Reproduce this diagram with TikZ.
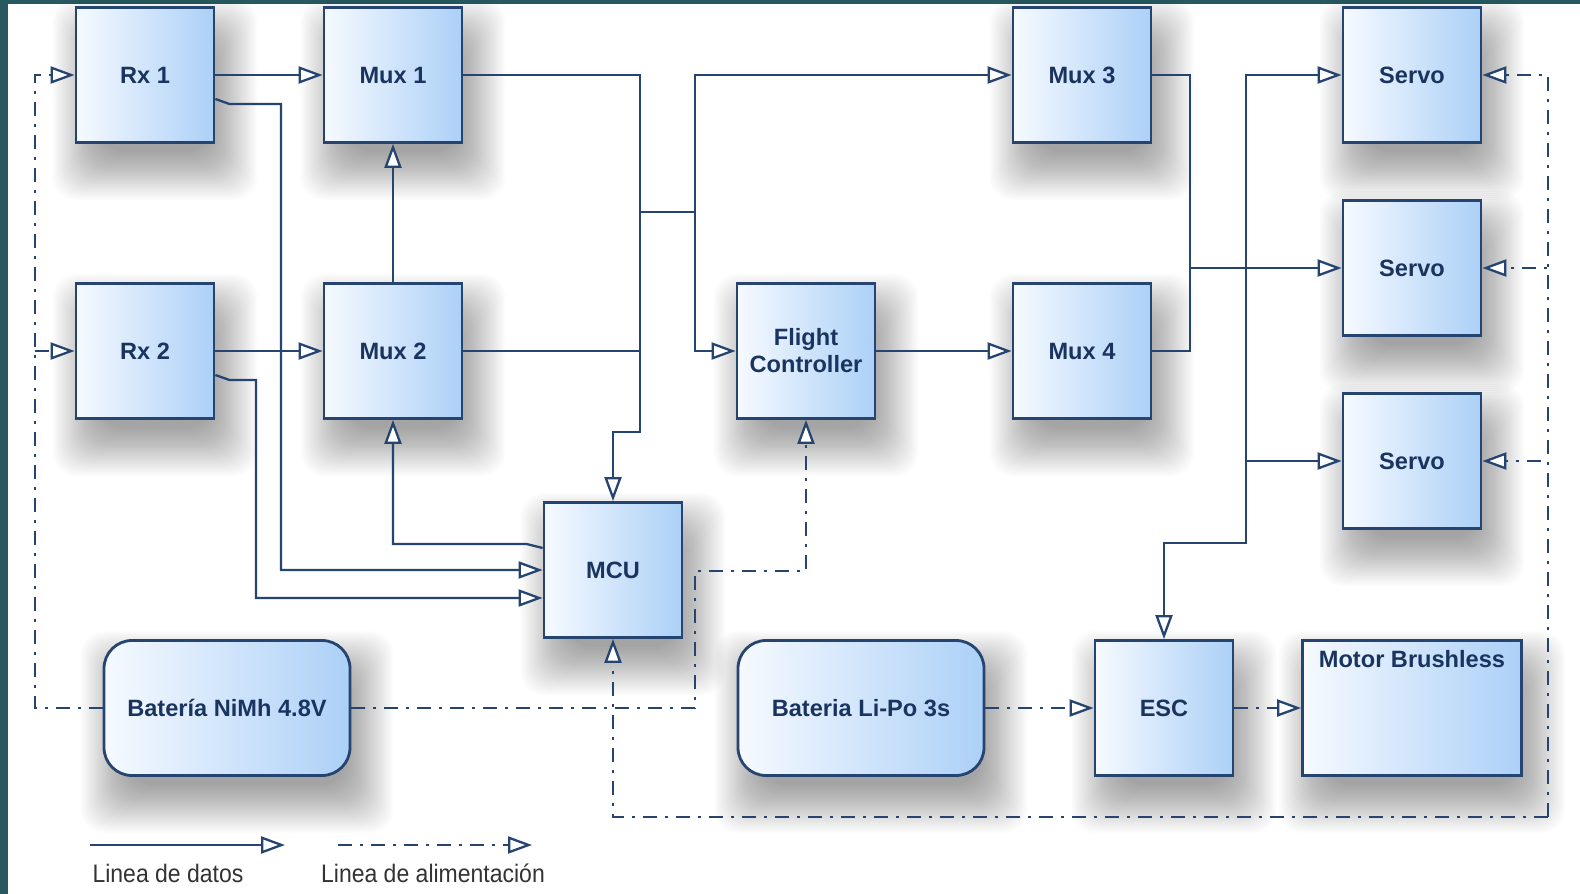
\documentclass[tikz,border=0pt]{standalone}
\usepackage{fontspec}
\setmainfont{Liberation Sans}
\usetikzlibrary{arrows.meta,backgrounds}

\definecolor{marco}{RGB}{38,90,96}
\definecolor{linea}{RGB}{38,68,112}
\definecolor{texto}{RGB}{26,52,96}
\definecolor{fondoA}{RGB}{246,250,255}
\definecolor{fondoB}{RGB}{172,208,247}

\tikzset{
  rotulo/.style={text=texto, align=center, font=\bfseries\fontsize{11.8pt}{13.5pt}\selectfont},
  bloque/.style={rotulo, draw=linea, line width=1.4pt, left color=fondoA, right color=fondoB,
    minimum width=69pt, minimum height=67.5pt, inner sep=2pt},
  bateria/.style={bloque, rounded corners=14pt, minimum width=123pt},
  sombra/.style={black, fill opacity=0.016, rounded corners=12pt},
  bus/.style={draw=linea, line width=1.15pt},
  datos/.style={bus, -{Triangle[open, fill=white, length=12pt, width=8.5pt]}},
  alim/.style={datos, dash pattern=on 7pt off 4pt on 1.5pt off 4pt},
  leyenda/.style={text=black!80, font=\fontsize{11.5pt}{13pt}\selectfont}
}

\begin{document}
\begin{tikzpicture}[x=0.5pt, y=-0.5pt]
    \useasboundingbox (0,0) rectangle (1580,894);

    % bloques
    \node[bloque] (rx1) at (145,75) {Rx 1};
    \node[bloque] (mux1) at (393,75) {Mux 1};
    \node[bloque] (rx2) at (145,351) {Rx 2};
    \node[bloque] (mux2) at (393,351) {Mux 2};
    \node[bloque] (mux3) at (1082,75) {Mux 3};
    \node[bloque] (mux4) at (1082,351) {Mux 4};
    \node[bloque] (fc) at (806,351) {Flight\\Controller};
    \node[bloque] (servo1) at (1412,75) {Servo};
    \node[bloque] (servo2) at (1412,268) {Servo};
    \node[bloque] (servo3) at (1412,461) {Servo};
    \node[bloque] (mcu) at (613,570) {MCU};
    \node[bateria] (nimh) at (227,708) {Batería NiMh 4.8V};
    \node[bateria] (lipo) at (861,708) {Bateria Li-Po 3s};
    \node[bloque] (esc) at (1164,708) {ESC};
    \node[bloque, minimum width=109.5pt] (motor) at (1412,708) {};
    \node[rotulo, below=2pt] (motortxt) at (motor.north) {Motor Brushless};

    % fondo y sombras
    \begin{pgfonlayer}{background}
      \fill[marco] (0,0) rectangle (1580,894);
      \fill[white] (8,4) rectangle (1580,894);
      \foreach \n in {rx1,mux1,rx2,mux2,mux3,mux4,fc,servo1,servo2,servo3,mcu,nimh,lipo,esc,motor}
        \foreach \e in {-8,...,16}
          \fill[sombra] ([xshift={5pt-(\e)*1pt}, yshift={-12pt-(\e)*1pt}]\n.south west)
            rectangle ([xshift={5pt+(\e)*1pt}, yshift={-12pt+(\e)*1pt}]\n.north east);
    \end{pgfonlayer}

    % puntos de union
    \coordinate (j1) at (640,212);
    \coordinate (j2) at (695,212);
    \coordinate (j3) at (1190,268);
    \coordinate (j4) at (1246,268);
    \coordinate (esq) at (1548,817);

    % lineas de datos
    \draw[datos] (rx1) -- (mux1);
    \draw[datos] (rx2) -- (mux2);
    \draw[datos] (mux2) -- (mux1);
    \draw[datos] ([yshift=-12pt]rx1.east) -- ++(7pt,-2.5pt) -- (281,104) |- (mcu.west);
    \draw[datos] ([yshift=-12pt]rx2.east) -- ++(7pt,-2.5pt) -- (256,380) |- ([yshift=-14pt]mcu.west);
    \draw[datos] ([yshift=11pt]mcu.west) -- ++(-8pt,2pt) -| (mux2.south);
    \draw[datos] (mux1.east) -- (640,75) -- (640,432) -| (mcu.north);
    \draw[bus] (mux2.east) -- (640,351);
    \draw[bus] (j1) -- (j2);
    \draw[datos] (j2) |- (mux3.west);
    \draw[datos] (j2) |- (fc.west);
    \draw[datos] (fc) -- (mux4);
    \draw[bus] (mux3.east) -- (1190,75) -- (1190,351) -- (mux4.east);
    \draw[datos] (j3) -- (servo2.west);
    \draw[datos] (j4) |- (servo1.west);
    \draw[datos] (j4) |- (servo3.west);
    \draw[datos] (j4) -- (1246,543) -| (esc.north);

    % lineas de alimentacion
    \draw[alim] (nimh.west) -- (35,708) |- (rx1.west);
    \draw[alim] (35,351) -- (rx2.west);
    \draw[alim] (nimh.east) -- (695,708) -- (695,571) -| (fc.south);
    \draw[alim] (esq) -| (mcu.south);
    \foreach \s in {servo1,servo2,servo3}
      \draw[alim] (esq) |- (\s.east);
    \draw[alim] (lipo) -- (esc);
    \draw[alim] (esc) -- (motor);

    % leyenda
    \coordinate (ld1) at (90,845);
    \coordinate (ld2) at (285,845);
    \coordinate (la1) at (338,845);
    \coordinate (la2) at (532,845);
    \draw[datos] (ld1) -- (ld2);
    \draw[alim] (la1) -- (la2);
    \node[leyenda] (leyd) at (168,873) {\scalebox{1}[1.1]{Linea de datos}};
    \node[leyenda] (leya) at (433,873) {\scalebox{1}[1.1]{Linea de alimentación}};
\end{tikzpicture}
\end{document}
